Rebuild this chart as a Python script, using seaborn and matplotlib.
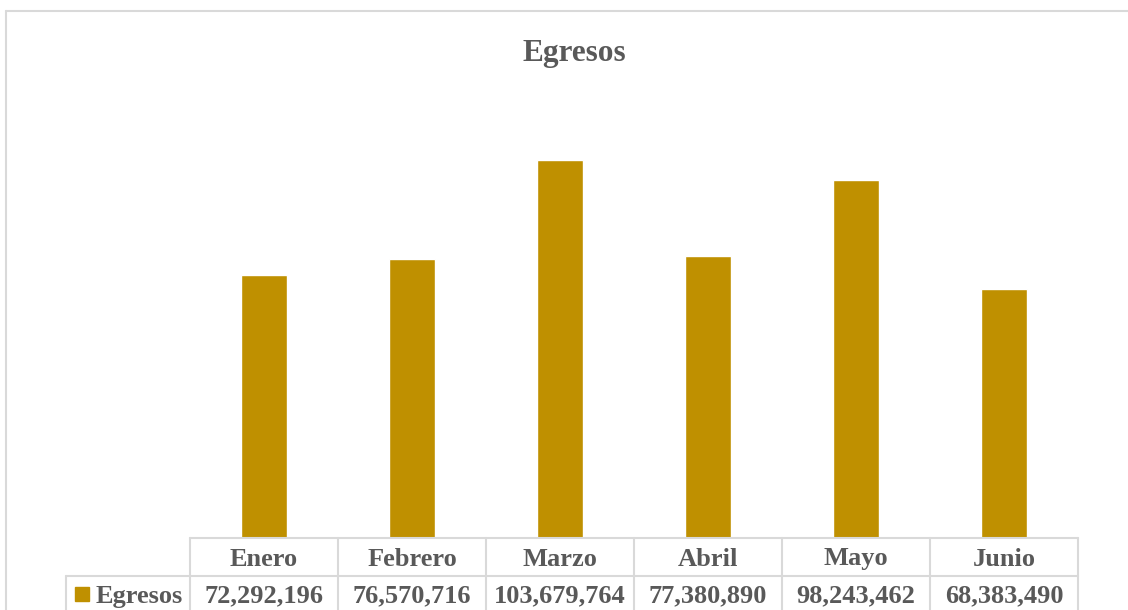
import matplotlib
matplotlib.use("Agg")
import matplotlib.pyplot as plt
import matplotlib.transforms as mtransforms
from matplotlib.lines import Line2D
from matplotlib.patches import Rectangle
import seaborn as sns

# Data
months = ["Enero", "Febrero", "Marzo", "Abril", "Mayo", "Junio"]
egresos = [72292196, 76570716, 103679764, 77380890, 98243462, 68383490]
series_name = "Egresos"

bar_color = "#BF9000"
text_color = "#595959"
grid_color = "#D9D9D9"

sns.set_theme(style="white")
plt.rcParams["font.family"] = ["Liberation Serif", "DejaVu Serif"]

W, H = 1128, 610
fig = plt.figure(figsize=(W / 100, H / 100), dpi=100)

def fx(px):
    return px / W

def fy(py):
    return 1 - py / H

# plot area
ax = fig.add_axes([fx(190), fy(538), fx(1078) - fx(190), fy(101) - fy(538)])
sns.barplot(x=months, y=egresos, color=bar_color, width=0.31, saturation=1, ax=ax)
ax.set_xlim(-0.5, 5.5)
ax.set_ylim(0, 120e6)
ax.set_axis_off()

# outer chart border
fig.add_artist(Line2D([fx(6), fx(1140)], [fy(11), fy(11)], color=grid_color, lw=1.5))
fig.add_artist(Line2D([fx(6), fx(6)], [fy(11), fy(620)], color=grid_color, lw=1.5))

# title
fig.text(fx(574), fy(54), "Egresos", ha="center", va="center",
         fontsize=22.5, fontweight="bold", color=text_color)

# data table under the bars
tr = mtransforms.blended_transform_factory(ax.transData, ax.transAxes)
ppx = 437  # axes height in pixels
row1 = -38 / ppx
row2 = -80 / ppx
left_label = -0.5 - 124 / 148

ax.add_line(Line2D([-0.5, 5.5], [0, 0], transform=tr, color=grid_color, lw=1.5, clip_on=False))
ax.add_line(Line2D([left_label, 5.5], [row1, row1], transform=tr, color=grid_color, lw=1.5, clip_on=False))
for i in range(len(months) + 1):
    ax.add_line(Line2D([i - 0.5, i - 0.5], [0, row2], transform=tr, color=grid_color, lw=1.5, clip_on=False))
ax.add_line(Line2D([left_label, left_label], [row1, row2], transform=tr, color=grid_color, lw=1.5, clip_on=False))

for i, (m, v) in enumerate(zip(months, egresos)):
    ax.text(i, -21 / ppx, m, transform=tr, ha="center", va="center",
            fontsize=19, fontweight="bold", color=text_color)
    ax.text(i, -58 / ppx, f"{v:,}", transform=tr, ha="center", va="center",
            fontsize=19, fontweight="bold", color=text_color)

# legend key + series name
ax.add_patch(Rectangle((left_label + 9 / 148, -63 / ppx), 14 / 148, 14 / ppx,
                       transform=tr, color=bar_color, clip_on=False))
ax.text(-0.5 - 7 / 148, -58 / ppx, series_name, transform=tr, ha="right", va="center",
        fontsize=19, fontweight="bold", color=text_color)

fig.savefig("out.png", dpi=100)
